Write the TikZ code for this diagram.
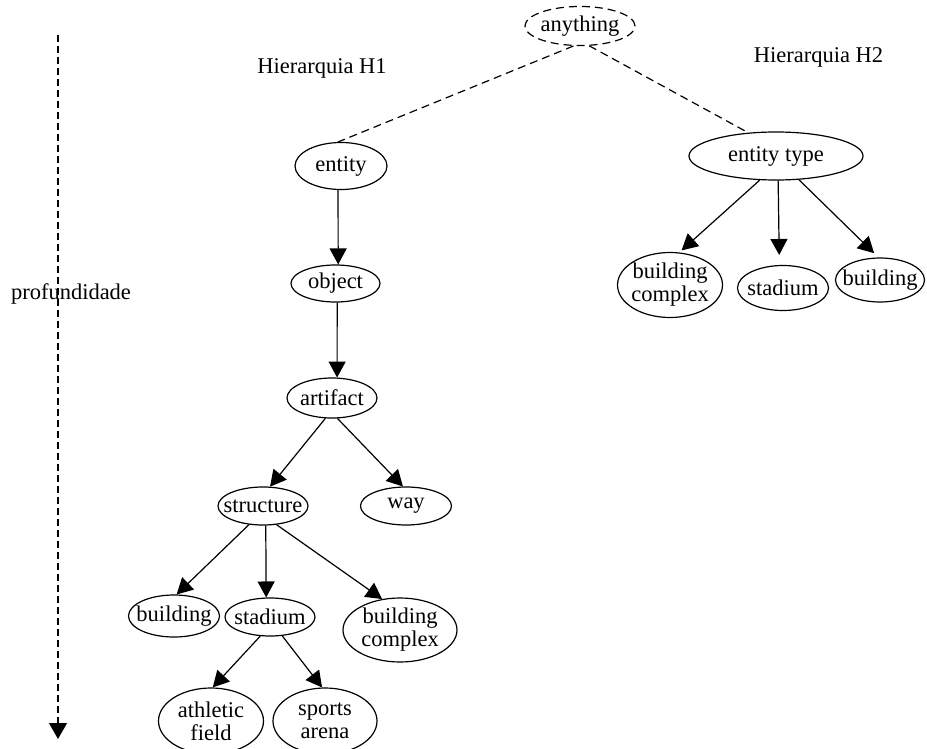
\documentclass[tikz,border=0pt]{standalone}
\usepackage{fontspec}
\setmainfont{Liberation Serif}
\usetikzlibrary{shapes.geometric,arrows.meta}

\tikzset{
  every node/.style={font=\fontsize{22.5}{23}\selectfont},
  % ellipse of a fixed size, its text set as a centred label
  concept/.style n args={3}{ellipse,draw,line width=1.2pt,inner sep=0pt,
    minimum width=#1,minimum height=#2,label={[align=center]center:#3}},
  link/.style={line width=1.2pt,-{Triangle[length=16pt,width=17pt]}},
  rootlink/.style={line width=1.2pt,dash pattern=on 8pt off 5pt},
  depthaxis/.style={line width=1.2pt,dash pattern=on 7pt off 4pt,
    -{Triangle[length=16pt,width=18pt]}}
}

\begin{document}
\begin{tikzpicture}[x=1pt,y=-1pt]
\useasboundingbox (0,0) rectangle (927,749);

% depth axis
\coordinate (depthtop) at (58,35);
\coordinate (depthend) at (58,739);
\draw[depthaxis] (depthtop) -- (depthend);
\node[anchor=base] (deplabel) at (71,299) {profundidade};

% titles
\node[anchor=base] (h1) at (322,74) {Hierarquia H1};
\node[anchor=base] (h2) at (818.5,63) {Hierarquia H2};

% common root
\node[concept={110pt}{39pt}{anything},dash pattern=on 8pt off 5pt] (anything) at (580,26) {};

% hierarchy H1
\node[concept={92pt}{47pt}{entity}] (entity) at (341,166) {};
\node[concept={89pt}{37pt}{object}] (object) at (335.5,283.5) {};
\node[concept={90pt}{40pt}{artifact}] (artifact) at (332,398) {};
\node[concept={90pt}{38pt}{structure}] (structure) at (263,506) {};
\node[concept={91pt}{38pt}{way}] (way) at (406,506) {};
\node[concept={91pt}{42pt}{building}] (building1) at (174,616) {};
\node[concept={90pt}{38pt}{stadium}] (stadium1) at (270,617) {};
\node[concept={114pt}{64pt}{building\\complex}] (complex1) at (400,630) {};
\node[concept={105pt}{66pt}{athletic\\field}] (athletic) at (211,721) {};
\node[concept={104pt}{66pt}{sports\\arena}] (sports) at (325,721) {};

% hierarchy H2
\node[concept={174pt}{48pt}{entity type}] (entitytype) at (776,156) {};
\node[concept={105pt}{65pt}{building\\complex}] (complex2) at (670,285) {};
\node[concept={91pt}{45pt}{stadium}] (stadium2) at (783,288) {};
\node[concept={89pt}{44pt}{building}] (building2) at (880,280) {};

% links to the root
\draw[rootlink] (anything.-108) -- (entity.97);
\draw[rootlink] (anything.-65.6) -- (entitytype.140);

% H1 edges
\draw[link] (entity.-97) -- (object.82);
\draw[link] (object.-85) -- (artifact.76);
\draw[link] (artifact.-108) -- (structure.70);
\draw[link] (artifact.-75) -- (way.99);
\draw[link] (structure.-127) -- (building1.83);
\draw[link] (structure.-82) -- (stadium1.101);
\draw[link] (structure.-54) -- (complex1.120);
\draw[link] (stadium1.-117) -- (athletic.87);
\draw[link] (stadium1.-57) -- (sports.95);

% H2 edges
\draw[link,shorten >=3pt] (entitytype.-124) -- (complex2.74);
\draw[link,shorten >=10pt] (entitytype.-85) -- (stadium2.99);
\draw[link,shorten >=6pt] (entitytype.-46) -- (building2.94);
\end{tikzpicture}
\end{document}
